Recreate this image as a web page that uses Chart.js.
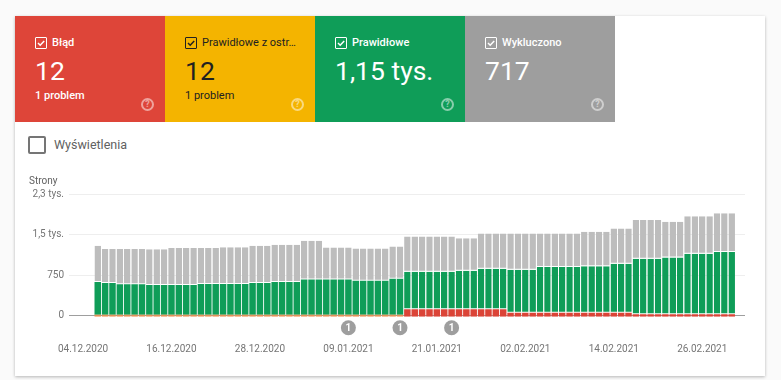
<!DOCTYPE html>
<html lang="pl">
<head>
<meta charset="utf-8">
<title>Stan indeksowania</title>
<script src="https://cdn.jsdelivr.net/npm/chart.js@4/dist/chart.umd.min.js"></script>
<style>
html, body { margin: 0; padding: 0; width: 781px; height: 380px; overflow: hidden; background: #fafafa; font-family: Roboto, sans-serif; }
.card { position: absolute; left: 15px; top: 16px; width: 750px; height: 360px; background: #fff; box-shadow: 0 1px 3px rgba(0,0,0,.28); }
.tab { position: absolute; top: 0; width: 150px; height: 106px; color: #fff; }
.tab .box { position: absolute; left: 20px; top: 21px; width: 10px; height: 10px; border: 1px solid currentColor; border-radius: 1px; }
.tab .box svg { position: absolute; left: 0; top: 0; }
.tab .name { position: absolute; left: 37px; top: 20px; font-size: 11px; line-height: 13px; font-weight: 500; white-space: nowrap; }
.tab .num { position: absolute; left: 20px; top: 38px; font-size: 26.5px; line-height: 34px; }
.tab .sub { position: absolute; left: 20px; top: 73px; font-size: 11px; line-height: 13px; font-weight: 500; }
.tab .help { position: absolute; left: 126px; top: 82px; width: 9px; height: 9px; border: 2px solid currentColor; border-radius: 50%; font-size: 9px; line-height: 9px; text-align: center; font-weight: 700; opacity: .5; }
.views { position: absolute; left: 13px; top: 120px; width: 14px; height: 14px; border: 2px solid #757575; border-radius: 2px; }
.views-label { position: absolute; left: 39px; top: 120px; font-size: 12.5px; line-height: 17px; color: #616161; }
#chart { position: absolute; left: 29px; top: 172px; }
</style>
</head>
<body>
<div class="card">
  <div class="tab" style="left:0;background:#de4539">
    <span class="box"><svg width="10" height="10"><path d="M2 5l2.2 2.2L8.2 3" fill="none" stroke="currentColor" stroke-width="1.5"/></svg></span>
    <span class="name">Błąd</span><span class="num">12</span><span class="sub">1 problem</span><span class="help">?</span>
  </div>
  <div class="tab" style="left:150px;background:#f4b400;color:#212121">
    <span class="box"><svg width="10" height="10"><path d="M2 5l2.2 2.2L8.2 3" fill="none" stroke="currentColor" stroke-width="1.5"/></svg></span>
    <span class="name" style="font-weight:400">Prawidłowe z ostr…</span><span class="num">12</span><span class="sub" style="font-weight:400">1 problem</span><span class="help" style="color:#fff">?</span>
  </div>
  <div class="tab" style="left:300px;background:#0f9d58">
    <span class="box"><svg width="10" height="10"><path d="M2 5l2.2 2.2L8.2 3" fill="none" stroke="currentColor" stroke-width="1.5"/></svg></span>
    <span class="name">Prawidłowe</span><span class="num">1,15 tys.</span><span class="help">?</span>
  </div>
  <div class="tab" style="left:450px;background:#9e9e9e">
    <span class="box"><svg width="10" height="10"><path d="M2 5l2.2 2.2L8.2 3" fill="none" stroke="currentColor" stroke-width="1.5"/></svg></span>
    <span class="name">Wykluczono</span><span class="num">717</span><span class="help">?</span>
  </div>
  <div class="views"></div>
  <div class="views-label">Wyświetlenia</div>
</div>
<canvas id="chart" width="725" height="190"></canvas>
<script>
const tickLabels = ['04.12.2020', '16.12.2020', '28.12.2020', '09.01.2021', '21.01.2021', '02.02.2021', '14.02.2021', '26.02.2021'];
const tickDays = [-2, 10, 22, 34, 46, 58, 70, 82];
const yTicks = [0, 750, 1500, 2250];
const yTickLabels = ['0', '750', '1,5 tys.', '2,3 tys.'];

const errors = [
  7, 7, 7, 7, 7, 7, 7, 7, 7, 7, 7, 7, 7, 7, 7, 7, 7, 7, 7, 7, 7,
  7, 7, 7, 7, 7, 7, 7, 7, 7, 7, 7, 7, 7, 7, 7, 7, 7, 7, 7, 7, 7,
  115, 115, 115, 115, 115, 115, 115, 115, 115, 115, 115, 115, 115, 115,
  52, 52, 52, 52, 52, 52, 52, 52, 52, 52, 52, 52, 52, 52, 52, 52, 52,
  25, 25, 25, 25, 25, 25, 25, 25, 25, 25, 25, 25, 25, 25
];
const warnings = [
  8, 8, 8, 8, 8, 8, 8, 8, 8, 8, 8, 8, 8, 8, 8, 8, 8, 8, 8, 8, 8,
  8, 8, 8, 8, 8, 8, 8, 8, 8, 8, 8, 8, 8, 8, 8, 8, 8, 8, 8, 8, 8,
  0, 0, 0, 0, 0, 0, 0, 0, 0, 0, 0, 0, 0, 0, 0, 0, 0, 0, 0, 0, 0, 0, 0, 0, 0, 0,
  0, 0, 0, 0, 0, 0, 0, 0, 0, 0, 0, 0, 0, 0, 0, 0, 0, 0, 0, 0, 0
];
const valid = [
  605, 585, 585, 565, 565, 565, 565, 550, 550, 550, 550, 550, 550, 550,
  570, 570, 570, 570, 570, 570, 570, 585, 585, 585, 605, 605, 605, 605,
  650, 650, 650, 650, 650, 650, 650, 630, 630, 630, 630, 630, 665, 665,
  695, 695, 695, 695, 695, 695, 695, 715, 715, 715, 750, 750, 750, 750,
  795, 795, 795, 795, 845, 845, 845, 845, 845, 845, 858, 858, 858, 858,
  906, 906, 906, 1025, 1025, 1025, 1025, 1051, 1051, 1051,
  1118, 1118, 1118, 1118, 1150, 1150, 1150
];
const excluded = [
  670, 630, 630, 650, 650, 650, 650, 660, 660, 660, 685, 685, 685, 685,
  665, 665, 665, 680, 680, 680, 680, 690, 690, 690, 690, 690, 690, 690,
  720, 720, 720, 595, 595, 595, 595, 598, 598, 598, 598, 598, 600, 600,
  655, 655, 655, 655, 655, 655, 655, 600, 600, 600, 655, 655, 655, 655,
  673, 673, 673, 673, 623, 623, 623, 623, 623, 623, 640, 640, 640, 640,
  654, 654, 654, 717, 717, 717, 717, 659, 659, 659,
  697, 697, 697, 697, 717, 717, 717
];
const annotationDays = [34, 41, 48];
const annotationLevel = -226;

const days = valid.map((_, i) => i);

// grey "1" badges sit under the axis, outside the chart area
const annotationBadges = {
  id: 'annotationBadges',
  afterDraw(chart) {
    const { ctx, scales } = chart;
    const y = scales.y.getPixelForValue(annotationLevel);
    ctx.save();
    ctx.font = '700 10px Roboto';
    ctx.textAlign = 'center';
    ctx.textBaseline = 'middle';
    annotationDays.forEach(day => {
      const x = scales.x.getPixelForValue(day);
      ctx.fillStyle = '#9e9e9e';
      ctx.beginPath();
      ctx.arc(x, y, 7.5, 0, Math.PI * 2);
      ctx.fill();
      ctx.fillStyle = '#fff';
      ctx.fillText('1', x, y + 0.5);
    });
    ctx.restore();
  }
};

// red and yellow overlap on the first days and read as orange
const stripColor = (ctx, color) => (warnings[ctx.dataIndex] > 0 ? '#f28e4b' : color);

function barSet(label, data, color, borderWidth, extra) {
  return Object.assign({
    label, data, stack: 'pages',
    backgroundColor: color,
    borderColor: '#fff',
    borderWidth,
    borderSkipped: false,
    barPercentage: 0.88,
    categoryPercentage: 1
  }, extra);
}

new Chart(document.getElementById('chart'), {
  type: 'bar',
  data: {
    labels: days,
    datasets: [
      barSet('Błąd', errors, ctx => stripColor(ctx, '#db4437'), 0, { base: -22 }),
      barSet('Prawidłowe z ostrzeżeniami', warnings, ctx => stripColor(ctx, '#f4b400'), 0),
      barSet('Prawidłowe', valid, '#0f9d58', ctx => ({ bottom: errors[ctx.dataIndex] > 20 ? 1 : 0 })),
      barSet('Wykluczono', excluded, '#bdbdbd', { bottom: 1 })
    ]
  },
  options: {
    responsive: false,
    animation: false,
    layout: { padding: { right: 9 } },
    plugins: {
      legend: { display: false },
      tooltip: { enabled: false },
      title: {
        display: true,
        text: 'Strony',
        align: 'start',
        color: '#616161',
        font: { family: 'Roboto', size: 10, weight: '400' },
        padding: { top: 3, bottom: 7 }
      }
    },
    scales: {
      x: {
        type: 'linear',
        stacked: true,
        min: -3.9,
        max: 87.8,
        offset: false,
        afterBuildTicks: axis => { axis.ticks = tickDays.map(value => ({ value })); },
        afterFit: axis => { axis.height = 45.3; },
        grid: { display: false },
        border: { display: false },
        ticks: {
          autoSkip: false,
          maxRotation: 0,
          padding: 19,
          color: '#757575',
          font: { family: 'Roboto', size: 10 },
          callback: (value, index) => tickLabels[index]
        }
      },
      y: {
        stacked: true,
        min: -22,
        max: 2250,
        afterBuildTicks: axis => { axis.ticks = yTicks.map(value => ({ value })); },
        afterFit: axis => { axis.width = 40; },
        grid: {
          drawTicks: false,
          color: ctx => (ctx.tick.value === 0 ? '#9e9e9e' : '#eeeeee')
        },
        border: { display: false },
        ticks: {
          padding: 5,
          color: '#757575',
          font: { family: 'Roboto', size: 10 },
          callback: (value, index) => yTickLabels[index]
        }
      }
    }
  },
  plugins: [annotationBadges]
});
</script>
</body>
</html>
